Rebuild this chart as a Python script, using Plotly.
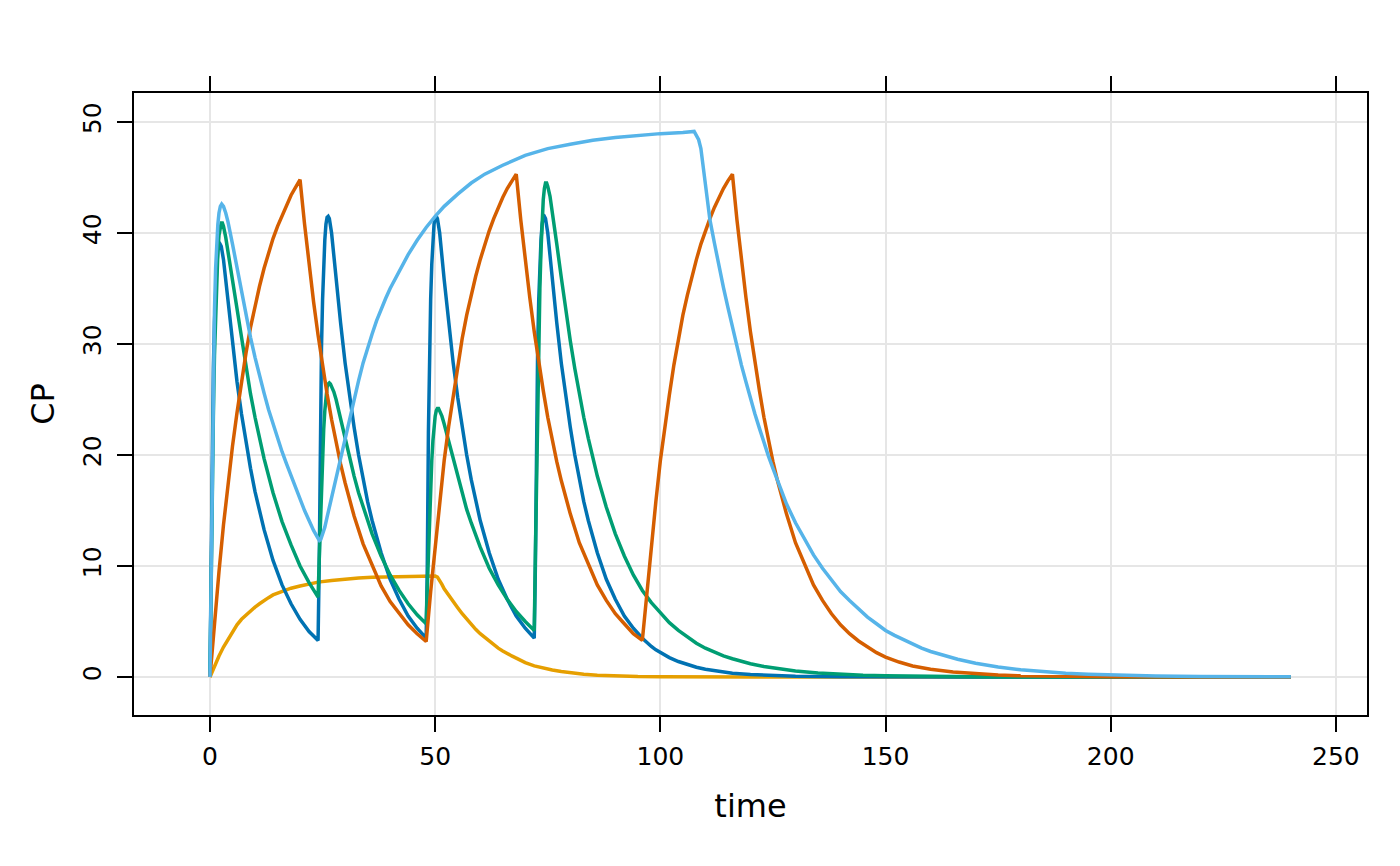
import plotly.graph_objects as go

# concentration-time profiles (time in h)
blue_t = [0, 0.25, 0.5, 0.75, 1, 1.25, 1.5, 1.75, 2, 2.25, 2.5, 3, 4, 5, 6, 7, 8, 9, 10, 11, 12, 14, 16, 18, 20, 22,
          24, 24.25, 24.5, 24.75, 25, 25.25, 25.5, 25.75, 26, 26.25, 26.5, 27, 28, 29, 30, 31, 32, 33, 34, 35, 36,
          38, 40, 42, 44, 46,
          48, 48.25, 48.5, 48.75, 49, 49.25, 49.5, 49.75, 50, 50.25, 50.5, 51, 52, 53, 54, 55, 56, 57, 58, 59, 60,
          62, 64, 66, 68, 70,
          72, 72.25, 72.5, 72.75, 73, 73.25, 73.5, 73.75, 74, 74.25, 74.5, 75, 76, 77, 78, 79, 80, 81, 82, 83, 84,
          86, 88, 90, 92, 94,
          96, 97, 98, 99, 100, 102, 104, 106, 108, 110, 113, 116, 120, 125, 130, 140, 150, 170, 240]
blue_v = [0, 9.5, 20.5, 27.8, 32, 35, 37, 38.4, 38.9, 39.0, 38.8, 37.6, 33.7, 30.0, 26.6, 23.7, 21.2, 18.8, 16.7,
          14.9, 13.3, 10.5, 8.3, 6.6, 5.2, 4.1,
          3.3, 10, 22, 29.5, 34, 37.2, 39.4, 40.8, 41.4, 41.5, 41.3, 40.0, 35.8, 31.9, 28.3, 25.2, 22.5, 20.0, 17.8,
          15.8, 14.1, 11.2, 8.8, 7.0, 5.5, 4.4,
          3.5, 10, 22, 29.5, 34, 37.2, 39.4, 40.8, 41.4, 41.5, 41.3, 40.0, 35.8, 31.9, 28.3, 25.2, 22.5, 20.0, 17.8,
          15.8, 14.1, 11.2, 8.8, 7.0, 5.5, 4.4,
          3.5, 10, 22, 29.5, 34, 37.2, 39.4, 40.8, 41.4, 41.5, 41.3, 40.0, 35.8, 31.9, 28.3, 25.2, 22.5, 20.0, 17.8,
          15.8, 14.1, 11.2, 8.8, 7.0, 5.5, 4.4,
          3.5, 3.1, 2.75, 2.45, 2.2, 1.75, 1.4, 1.1, 0.88, 0.7, 0.5, 0.35, 0.22, 0.13, 0.07, 0.02, 0.01, 0, 0]

green_t = [0, 0.25, 0.5, 0.75, 1, 1.25, 1.5, 1.75, 2, 2.25, 2.5, 2.75, 3, 3.5, 4, 5, 6, 7, 8, 9, 10, 11, 12, 14,
           16, 18, 20, 22,
           24, 24.25, 24.5, 24.75, 25, 25.25, 25.5, 25.75, 26, 26.25, 26.5, 26.75, 27, 27.5, 28, 29, 30, 31, 32,
           33, 34, 35, 36, 38, 40, 42, 44, 46,
           48, 48.25, 48.5, 48.75, 49, 49.25, 49.5, 49.75, 50, 50.25, 50.5, 50.75, 51, 51.5, 52, 53, 54, 55, 56,
           57, 58, 59, 60, 62, 64, 66, 68, 70,
           72, 72.25, 72.5, 72.75, 73, 73.25, 73.5, 73.75, 74, 74.25, 74.5, 74.75, 75, 75.5, 76, 77, 78, 79, 80,
           81, 82, 83, 84, 86, 88, 90, 92, 94,
           96, 97, 98, 99, 100, 102, 104, 106, 108, 110, 112, 114, 116, 118, 120, 123, 126, 130, 135, 140, 145,
           150, 160, 170, 180, 200, 240]
green_v = [0, 9, 17, 23.5, 29, 33, 36, 38.3, 39.8, 40.6, 40.9, 40.9, 40.6, 39.6, 38.3, 35.6, 33.0, 30.3, 27.8,
           25.5, 23.4, 21.5, 19.7, 16.6, 14.0, 11.9, 10.0, 8.5,
           7.2, 10.5, 14, 17.3, 20, 22.3, 24, 25.2, 26.1, 26.4, 26.5, 26.4, 26.2, 25.7, 25.0, 23.2, 21.4, 19.7,
           18.1, 16.6, 15.3, 14.0, 12.9, 10.9, 9.2, 7.8, 6.6, 5.6,
           4.8, 8, 11.5, 14.7, 17.3, 19.5, 21.3, 22.6, 23.5, 24.0, 24.2, 24.2, 24.0, 23.5, 22.8, 21.3, 19.6, 18.0,
           16.5, 15.1, 13.9, 12.7, 11.7, 9.8, 8.3, 7.0, 5.9, 5.0,
           4.2, 11, 18, 25, 30.5, 35, 38.5, 41.2, 43.0, 44.0, 44.5, 44.5, 44.2, 43.3, 42.0, 39.0, 36.0, 33.0,
           30.3, 27.8, 25.5, 23.4, 21.5, 18.1, 15.3, 12.9, 10.9, 9.2,
           7.8, 7.2, 6.7, 6.25, 5.8, 4.9, 4.2, 3.6, 3.05, 2.6, 2.25, 1.9, 1.65, 1.4, 1.2, 0.95, 0.75, 0.55, 0.37,
           0.25, 0.17, 0.12, 0.055, 0.025, 0.012, 0.003, 0]

red_t = [0, 1, 2, 3, 4, 5, 6, 7, 8, 9, 10, 11, 12, 13, 14, 15, 16, 17, 18, 19, 20,
         21, 22, 23, 24, 25, 26, 27, 28, 29, 30, 32, 34, 36, 38, 40, 42, 44, 46,
         48, 49, 50, 51, 52, 53, 54, 55, 56, 57, 58, 59, 60, 61, 62, 63, 64, 65, 66, 67, 68,
         69, 70, 71, 72, 73, 74, 75, 76, 77, 78, 80, 82, 84, 86, 88, 90, 92, 94,
         96, 97, 98, 99, 100, 101, 102, 103, 104, 105, 106, 107, 108, 109, 110, 111, 112, 113, 114, 115, 116,
         117, 118, 119, 120, 121, 122, 123, 124, 125, 126, 128, 130, 132, 134, 136, 138, 140, 142, 144, 146,
         148, 150, 153, 156, 160, 165, 170, 175, 180, 190, 200, 220, 240]
red_v = [0, 4.9, 9.5, 13.7, 17.5, 20.8, 23.8, 26.6, 29.2, 31.5, 33.5, 35.2, 36.8, 38.2, 39.5, 40.6, 41.6, 42.6,
         43.4, 44.1, 44.8,
         40.8, 37.1, 33.8, 30.8, 28.0, 25.5, 23.2, 21.1, 19.2, 17.5, 14.5, 12.0, 10.0, 8.2, 6.8, 5.7, 4.7, 3.9,
         3.2, 7.7, 11.9, 15.8, 19.5, 22.6, 25.4, 28.1, 30.5, 32.6, 34.4, 36.1, 37.6, 39.0, 40.2, 41.3, 42.3, 43.2,
         44.0, 44.7, 45.3,
         41.2, 37.6, 34.2, 31.1, 28.3, 25.8, 23.4, 21.3, 19.4, 17.7, 14.7, 12.1, 10.1, 8.3, 6.9, 5.7, 4.8, 3.9,
         3.3, 7.7, 11.9, 15.8, 19.5, 22.6, 25.4, 28.1, 30.5, 32.6, 34.4, 36.1, 37.6, 39.0, 40.2, 41.3, 42.3, 43.2,
         44.0, 44.7, 45.3,
         41.2, 37.6, 34.2, 31.1, 28.3, 25.8, 23.4, 21.3, 19.4, 17.7, 14.7, 12.1, 10.1, 8.3, 6.9, 5.7, 4.7, 3.9,
         3.25, 2.7, 2.2, 1.8, 1.35, 1.0, 0.7, 0.45, 0.28, 0.18, 0.11, 0.045, 0.018, 0.003, 0]

yellow_t = [0, 0.5, 1, 1.5, 2, 3, 4, 5, 6, 7, 8, 9, 10, 11, 12, 13, 14, 15, 16, 18, 20, 22, 24, 27, 30, 33, 36,
            40, 45, 50,
            50.5, 51, 51.5, 52, 53, 54, 55, 56, 57, 58, 59, 60, 61, 62, 63, 64, 65, 66, 67, 68, 70, 72, 74, 76,
            78, 80, 83, 86, 90, 95, 100, 110, 120, 240]
yellow_v = [0, 0.5, 1.0, 1.45, 1.9, 2.7, 3.4, 4.1, 4.7, 5.2, 5.6, 6.0, 6.3, 6.6, 6.9, 7.15, 7.4, 7.55, 7.7, 8.0,
            8.2, 8.4, 8.55, 8.7, 8.83, 8.92, 8.98, 9.03, 9.07, 9.1,
            9.0, 8.7, 8.35, 7.95, 7.35, 6.8, 6.25, 5.7, 5.2, 4.7, 4.3, 3.9, 3.55, 3.2, 2.9, 2.6, 2.35, 2.1, 1.9,
            1.7, 1.3, 1.0, 0.8, 0.63, 0.5, 0.38, 0.26, 0.17, 0.1, 0.05, 0.03, 0.01, 0, 0]

sky_t = [0, 0.25, 0.5, 0.75, 1, 1.25, 1.5, 1.75, 2, 2.3, 2.6, 3, 3.5, 4, 5, 6, 7, 8, 9, 10, 11, 12, 13, 14, 15,
         16, 17, 18, 19, 20, 21, 22, 23, 24, 24.3,
         24.6, 25, 25.5, 26, 26.5, 27, 28, 29, 30, 31, 32, 33, 34, 35, 36, 37, 38, 39, 40, 42, 44, 46, 48, 50,
         52, 55, 58, 61, 65, 70, 75, 80, 85, 90, 95, 100, 105, 107.5,
         108.5, 109, 110, 111, 112, 113, 114, 115, 116, 117, 118, 119, 120, 121, 122, 123, 124, 125, 126, 127,
         128, 130, 132, 134, 136, 138, 140, 142, 144, 146, 148, 150, 152, 154, 156, 158, 160, 163, 166, 170,
         175, 180, 185, 190, 195, 200, 210, 220, 230, 240]
sky_v = [0, 10, 20, 27.5, 33, 36.8, 39.3, 40.8, 41.8, 42.4, 42.6, 42.4, 41.8, 41.0, 39.0, 36.8, 34.6, 32.5, 30.6,
         28.8, 27.1, 25.6, 24.1, 22.8, 21.5, 20.3, 19.2, 18.1, 17.0, 16.0, 15.0, 14.1, 13.2, 12.5, 12.3,
         12.4, 12.8, 13.5, 14.4, 15.3, 16.2, 17.9, 19.6, 21.3, 23.2, 25.0, 26.7, 28.3, 29.7, 30.9, 32.1, 33.2,
         34.1, 35.0, 36.6, 38.05, 39.35, 40.5, 41.5, 42.4, 43.5, 44.5, 45.3, 46.1, 47.0, 47.6, 48.0, 48.35, 48.6,
         48.8, 48.95, 49.05, 49.15,
         48.4, 47.6, 44.4, 41.2, 39.1, 37.0, 35.1, 33.3, 31.5, 29.8, 28.1, 26.6, 25.1, 23.7, 22.4, 21.1, 19.9,
         18.8, 17.7, 16.6,
         15.6, 13.9, 12.4, 11.0, 9.8, 8.7, 7.7, 6.9, 6.1, 5.4, 4.8, 4.2, 3.75, 3.35, 2.95, 2.6, 2.3, 1.95, 1.6,
         1.25, 0.9, 0.65, 0.47, 0.34, 0.25, 0.18, 0.1, 0.05, 0.03, 0.02]

x_ticks = [0, 50, 100, 150, 200, 250]
y_ticks = [0, 10, 20, 30, 40, 50]

# drawing order: first is at the bottom
series = [
    (yellow_t, yellow_v, "#E69F00"),
    (blue_t, blue_v, "#0072B2"),
    (green_t, green_v, "#009E73"),
    (red_t, red_v, "#D55E00"),
    (sky_t, sky_v, "#56B4E9"),
]

fig = go.Figure()
for t, v, colour in series:
    fig.add_trace(go.Scatter(x=t, y=v, mode="lines", line=dict(color=colour, width=3.5),
                             showlegend=False, hoverinfo="skip"))

axis_style = dict(
    showline=True,
    linecolor="black",
    linewidth=1.8,
    ticks="outside",
    ticklen=15,
    tickwidth=1.8,
    tickcolor="black",
    showgrid=True,
    gridcolor="#e6e6e6",
    gridwidth=1.6,
    zeroline=False,
    tickfont=dict(size=25, color="black"),
)

fig.update_xaxes(axis_style, range=[-16.87, 256.9], tickvals=x_ticks, mirror="ticks",
                 ticklabelstandoff=3,
                 title=dict(text="time", font=dict(size=32, color="black"), standoff=25))
fig.update_yaxes(axis_style, range=[-3.42, 52.61], tickvals=y_ticks, mirror=True, tickangle=-90,
                 ticklabelstandoff=6,
                 title=dict(text="CP", font=dict(size=32, color="black"), standoff=14))

# the page body adds an 8px offset, so the figure is 8px smaller than the window
fig.update_layout(
    width=1392,
    height=858,
    margin=dict(l=126, r=33, t=85, b=151),
    plot_bgcolor="white",
    paper_bgcolor="white",
    font=dict(family="DejaVu Sans", color="black"),
)

fig.write_html("out.html")
